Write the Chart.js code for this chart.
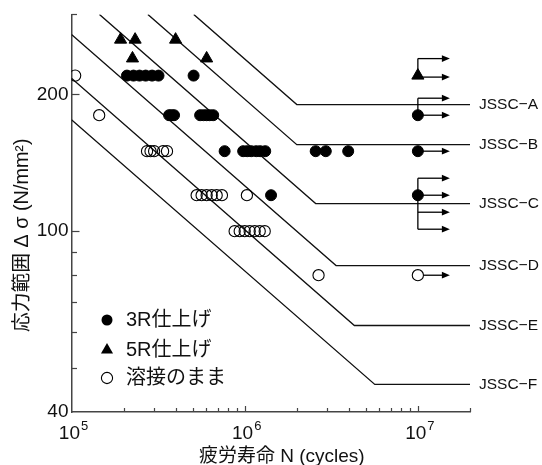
<!DOCTYPE html>
<html><head><meta charset="utf-8">
<script src="https://cdn.jsdelivr.net/npm/chart.js@4.4.1/dist/chart.umd.min.js"></script>
<style>html,body{margin:0;padding:0;background:#fff}#wrap{width:542px;height:465px}</style>
</head><body><div id="wrap"><canvas id="c" width="542" height="465"></canvas></div>
<script>
const FONT = "'Liberation Sans', Arial, 'Noto Sans CJK JP', sans-serif";

// ---- data ----
const seriesLabels = ['3R仕上げ', '5R仕上げ', '溶接のまま'];

const r3N = [2.09e5, 2.28e5, 2.47e5, 2.68e5, 2.92e5, 3.18e5, 5.07e5,
             3.66e5, 3.78e5, 3.91e5, 5.53e5, 5.79e5, 6.03e5, 6.28e5, 6.58e5,
             7.66e5, 9.80e5, 1.034e6, 1.091e6, 1.166e6, 1.229e6, 1.314e6, 2.57e6, 2.94e6, 3.96e6,
             1.42e6,
             1e7, 1e7, 1e7];
const r3S = [220, 220, 220, 220, 220, 220, 220,
             180, 180, 180, 180, 180, 180, 180, 180,
             150, 150, 150, 150, 150, 150, 150, 150, 150, 150,
             120,
             180, 150, 120];

const r5N = [1.92e5, 2.33e5, 3.99e5, 2.25e5, 6.03e5, 1e7];
const r5S = [264, 264, 264, 240, 240, 220];

const weldN = [1.05e5, 1.445e5,
               2.73e5, 2.86e5, 3.00e5, 3.38e5, 3.56e5,
               5.28e5, 5.64e5, 6.03e5, 6.45e5, 6.89e5, 7.39e5, 1.03e6,
               8.75e5, 9.36e5, 1.0e6, 1.069e6, 1.142e6, 1.221e6, 1.305e6,
               2.67e6, 1e7];
const weldS = [220, 180,
               150, 150, 150, 150, 150,
               120, 120, 120, 120, 120, 120, 120,
               100, 100, 100, 100, 100, 100, 100,
               80, 80];

// run-outs (not failed) at 10^7: stress, series, arrow steps (0 = at marker, +1 = one step above ...)
const runoutN = [1e7, 1e7, 1e7, 1e7, 1e7];
const runoutS = [220, 180, 150, 120, 80];
const runoutSeries = [1, 0, 0, 0, 2];
const runoutSteps = [[0, 1], [0, 1], [0], [1, 0, -1, -2], [0]];

// JSSC design S-N curves
const jsscNames = ['JSSC−A', 'JSSC−B', 'JSSC−C', 'JSSC−D', 'JSSC−E', 'JSSC−F'];
const jsscStartN = [5.08e5, 2.76e5, 1.45e5, 1e5, 1e5, 1e5];
const jsscStartS = [300, 300, 300, 271, 217, 176];
const jsscKneeN = [2.0e6, 2.0e6, 2.57e6, 3.37e6, 4.30e6, 5.64e6];
const jsscLimitS = [190, 155, 115, 84, 62, 46];
const jsscEndN = [2e7, 2e7, 2e7, 2e7, 2e7, 2e7];

// axes
const xTickValues = [1e5, 2e5, 3e5, 4e5, 5e5, 6e5, 7e5, 8e5, 9e5, 1e6, 2e6, 3e6, 4e6, 5e6, 6e6, 7e6, 8e6, 9e6, 1e7, 2e7];
const xMajorValues = [1e5, 1e6, 1e7];
const xTickBase = ['10', '10', '10'];
const xTickExponents = ['5', '6', '7'];
const yTickValues = [40, 50, 60, 70, 80, 90, 100, 200, 300];
const yLabelValues = [40, 100, 200];
const yMajorValues = [100, 200];
const xTitle = '疲労寿命 N (cycles)';
const yTitle = '応力範囲 Δ σ (N/mm²)';

// ---- build ----
const pts = (ns, ss) => ns.map((n, i) => ({x: n, y: ss[i]}));
const markerStyles = [
  {pointStyle: 'circle', radius: 5.5, bg: '#000', border: '#000', bw: 1},
  {pointStyle: 'triangle', radius: 7, bg: '#000', border: '#000', bw: 1},
  {pointStyle: 'circle', radius: 5.6, bg: 'rgba(255,255,255,0)', border: '#000', bw: 1.1}
];
const seriesData = [pts(r3N, r3S), pts(r5N, r5S), pts(weldN, weldS)];

const datasets = [];
seriesData.forEach((d, i) => {
  const m = markerStyles[i];
  datasets.push({
    type: 'scatter', label: seriesLabels[i], data: d,
    pointStyle: m.pointStyle, pointRadius: m.radius,
    pointBackgroundColor: m.bg, pointBorderColor: m.border, pointBorderWidth: m.bw,
    showLine: false
  });
});
jsscNames.forEach((name, i) => {
  datasets.push({
    type: 'scatter', label: name,
    data: [{x: jsscStartN[i], y: jsscStartS[i]}, {x: jsscKneeN[i], y: jsscLimitS[i]}, {x: jsscEndN[i], y: jsscLimitS[i]}],
    showLine: true, borderColor: '#111', borderWidth: 1.3, pointRadius: 0, fill: false, tension: 0
  });
});

// ---- plugins ----
const decorPlugin = {
  id: 'decor',
  afterDatasetsDraw(chart) {
    const ctx = chart.ctx, xs = chart.scales.x, ys = chart.scales.y, ca = chart.chartArea;
    ctx.save();
    // inward tick marks
    ctx.strokeStyle = '#444'; ctx.lineWidth = 1.2;
    xTickValues.forEach(v => {
      const px = Math.round(xs.getPixelForValue(v)) + 0.5;
      const len = xMajorValues.includes(v) ? 6 : 4;
      if (v === xTickValues[0]) return;
      ctx.beginPath(); ctx.moveTo(px, ca.bottom); ctx.lineTo(px, ca.bottom - len); ctx.stroke();
    });
    yTickValues.forEach(v => {
      const py = Math.round(ys.getPixelForValue(v)) + 0.5;
      if (v === yTickValues[0]) return;
      const len = yMajorValues.includes(v) ? 8 : 5.5;
      ctx.beginPath(); ctx.moveTo(ca.left, py); ctx.lineTo(ca.left + len, py); ctx.stroke();
    });
    // run-out arrows
    ctx.strokeStyle = '#000'; ctx.fillStyle = '#000'; ctx.lineWidth = 1.3;
    const step = 17, arrowLen = 32;
    runoutN.forEach((n, i) => {
      const px = xs.getPixelForValue(n), py = ys.getPixelForValue(runoutS[i]);
      const steps = runoutSteps[i];
      const r = markerStyles[runoutSeries[i]].radius;
      const open = runoutSeries[i] === 2;
      const ymin = py - Math.max(0, ...steps) * step, ymax = py - Math.min(0, ...steps) * step;
      if (ymin !== ymax) {
        ctx.beginPath(); ctx.moveTo(px, ymin); ctx.lineTo(px, ymax); ctx.stroke();
      }
      steps.forEach(s => {
        const y = py - s * step + (s === 0 && runoutSeries[i] === 1 ? 1.5 : 0);
        const x0 = (s === 0 && open) ? px + r : px;
        const tip = px + arrowLen;
        ctx.beginPath(); ctx.moveTo(x0, y); ctx.lineTo(tip - 6, y); ctx.stroke();
        ctx.beginPath(); ctx.moveTo(tip, y); ctx.lineTo(tip - 8, y - 3.4); ctx.lineTo(tip - 8, y + 3.4); ctx.closePath(); ctx.fill();
      });
    });
    ctx.restore();
  },
  afterDraw(chart) {
    const ctx = chart.ctx, xs = chart.scales.x, ys = chart.scales.y, ca = chart.chartArea;
    ctx.save();
    ctx.fillStyle = '#111';
    // x tick labels 10^n
    xMajorValues.forEach((v, i) => {
      const px = xs.getPixelForValue(v);
      ctx.font = '19px ' + FONT; const w1 = ctx.measureText(xTickBase[i]).width;
      ctx.font = '13px ' + FONT; const w2 = ctx.measureText(xTickExponents[i]).width;
      const x0 = px + 2 - (w1 + 1 + w2) / 2;
      ctx.textAlign = 'left'; ctx.textBaseline = 'alphabetic';
      ctx.font = '19px ' + FONT; ctx.fillText(xTickBase[i], x0, ca.bottom + 27);
      ctx.font = '13px ' + FONT; ctx.fillText(xTickExponents[i], x0 + w1 + 1, ca.bottom + 18);
    });
    // axis titles
    ctx.font = '19px ' + FONT; ctx.textAlign = 'center'; ctx.textBaseline = 'middle';
    ctx.fillText(xTitle, (ca.left + ca.right) / 2 + 11, ca.bottom + 45);
    ctx.save();
    ctx.font = '19.8px ' + FONT;
    ctx.translate(23, ca.bottom - 80);
    ctx.rotate(-Math.PI / 2);
    ctx.textAlign = 'left';
    ctx.fillText(yTitle, 0, 0);
    ctx.restore();
    // JSSC labels
    ctx.font = '15.5px ' + FONT; ctx.textAlign = 'left'; ctx.textBaseline = 'middle';
    jsscNames.forEach((name, i) => {
      ctx.fillText(name, ca.right + 9, ys.getPixelForValue(jsscLimitS[i]));
    });
    // legend inside chart
    const rowsY = [ca.bottom - 92, ca.bottom - 62, ca.bottom - 34];
    const mx = ca.left + 35.5;
    seriesLabels.forEach((lab, i) => {
      const m = markerStyles[i], y = rowsY[i];
      ctx.beginPath();
      if (m.pointStyle === 'triangle') {
        const r = m.radius;
        ctx.moveTo(mx, y - r);
        ctx.lineTo(mx + Math.sin(2 * Math.PI / 3) * r, y - Math.cos(2 * Math.PI / 3) * r);
        ctx.lineTo(mx + Math.sin(4 * Math.PI / 3) * r, y - Math.cos(4 * Math.PI / 3) * r);
        ctx.closePath();
        ctx.fillStyle = '#000'; ctx.fill();
      } else {
        ctx.arc(mx, y, m.radius, 0, Math.PI * 2);
        if (i === 2) { ctx.strokeStyle = '#000'; ctx.lineWidth = 1.1; ctx.stroke(); }
        else { ctx.fillStyle = '#000'; ctx.fill(); }
      }
      ctx.fillStyle = '#111'; ctx.font = '20px ' + FONT;
      ctx.fillText(lab, ca.left + 54.5, y + 0.5);
    });
    ctx.restore();
  }
};

new Chart(document.getElementById('c'), {
  type: 'scatter',
  data: {datasets},
  options: {
    responsive: false, animation: false, devicePixelRatio: 1,
    layout: {padding: {top: 12, right: 72, bottom: 0, left: 0}},
    plugins: {legend: {display: false}, tooltip: {enabled: false}},
    scales: {
      x: {
        type: 'logarithmic', min: 1e5, max: 2e7, position: 'bottom',
        afterBuildTicks: s => { s.ticks = xTickValues.map(v => ({value: v})); },
        afterFit: s => { s.height = 53; },
        ticks: {callback: () => '', autoSkip: false, maxRotation: 0, minRotation: 0},
        grid: {display: true, drawOnChartArea: false, drawTicks: false},
        border: {display: true, color: '#444', width: 1.5}
      },
      y: {
        type: 'logarithmic', min: 40, max: 300, position: 'left',
        afterBuildTicks: s => { s.ticks = yTickValues.map(v => ({value: v})); },
        afterFit: s => { s.width = 71.5; },
        ticks: {
          callback: v => yLabelValues.includes(v) ? String(v) : '',
          autoSkip: false, font: {family: FONT, size: 19}, color: '#111', padding: 3
        },
        grid: {display: true, drawOnChartArea: false, drawTicks: false},
        border: {display: true, color: '#444', width: 1.5}
      }
    }
  },
  plugins: [decorPlugin]
});
</script>
</body></html>
